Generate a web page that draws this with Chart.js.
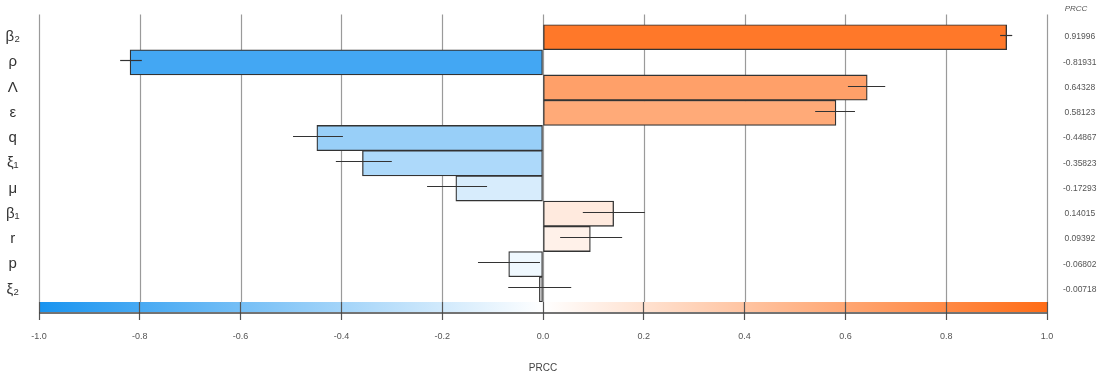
<!DOCTYPE html>
<html>
<head>
<meta charset="utf-8">
<script src="https://cdn.jsdelivr.net/npm/chart.js@4/dist/chart.umd.min.js"></script>
<style>
  html, body { margin: 0; padding: 0; background: #ffffff; }
  #wrap { width: 1097px; height: 376px; }
</style>
</head>
<body>
<div id="wrap"><canvas id="c" width="1097" height="376"></canvas></div>
<script>
// ---- data ----
const parameters = ['β₂', 'ρ', 'Λ', 'ε', 'q', 'ξ₁', 'μ', 'β₁', 'r', 'p', 'ξ₂'];
const prccValues = [0.91996, -0.81931, 0.64328, 0.58123, -0.44867, -0.35823, -0.17293, 0.14015, 0.09392, -0.06802, -0.00718];
const prccLabels = ['0.91996', '-0.81931', '0.64328', '0.58123', '-0.44867', '-0.35823', '-0.17293', '0.14015', '0.09392', '-0.06802', '-0.00718'];
const ciLower = [0.907, -0.839, 0.605, 0.540, -0.496, -0.411, -0.230, 0.079, 0.034, -0.129, -0.069];
const ciUpper = [0.931, -0.796, 0.679, 0.619, -0.397, -0.300, -0.111, 0.202, 0.157, -0.006, 0.056];
const xTickValues = [-1.0, -0.8, -0.6, -0.4, -0.2, 0.0, 0.2, 0.4, 0.6, 0.8, 1.0];

// ---- styling helpers ----
const NEG_END = [25, 148, 240];
const POS_END = [255, 108, 22];
function colorFor(v) {
  const t = Math.min(1, Math.abs(v));
  const end = v < 0 ? NEG_END : POS_END;
  const c = end.map(e => Math.round(255 + (e - 255) * t));
  return `rgb(${c[0]},${c[1]},${c[2]})`;
}

const decorPlugin = {
  id: 'decor',
  beforeDraw(chart) {
    const { ctx, chartArea, scales } = chart;
    const xs = scales.x;
    const x0 = xs.getPixelForValue(-1), x1 = xs.getPixelForValue(1);
    const g = ctx.createLinearGradient(x0, 0, x1, 0);
    g.addColorStop(0, colorFor(-1));
    g.addColorStop(0.5, '#ffffff');
    g.addColorStop(1, colorFor(1));
    ctx.save();
    ctx.fillStyle = g;
    ctx.fillRect(x0, chartArea.bottom, x1 - x0, 10);
    ctx.restore();
  },
  beforeDatasetsDraw(chart) {
    const { ctx, chartArea, scales } = chart;
    const xs = scales.x;
    ctx.save();
    ctx.strokeStyle = '#9a9a9a';
    ctx.lineWidth = 1.2;
    xTickValues.forEach(v => {
      const x = Math.round(xs.getPixelForValue(v)) + 0.5;
      ctx.beginPath();
      ctx.moveTo(x, chartArea.top - 10);
      ctx.lineTo(x, chartArea.bottom);
      ctx.stroke();
    });
    ctx.restore();
  },
  afterDatasetsDraw(chart) {
    const { ctx, scales } = chart;
    const xs = scales.x, ys = scales.y;
    ctx.save();
    ctx.strokeStyle = '#333333';
    ctx.lineWidth = 1.2;
    prccValues.forEach((v, i) => {
      const y = Math.round(ys.getPixelForValue(i)) - 1.5;
      ctx.beginPath();
      ctx.moveTo(xs.getPixelForValue(ciLower[i]), y);
      ctx.lineTo(xs.getPixelForValue(ciUpper[i]), y);
      ctx.stroke();
    });
    ctx.restore();
  },
  afterDraw(chart) {
    const { ctx, chartArea, scales } = chart;
    const xs = scales.x;
    ctx.save();
    ctx.strokeStyle = '#444444';
    ctx.lineWidth = 1.5;
    ctx.beginPath();
    ctx.moveTo(xs.getPixelForValue(-1), chartArea.bottom + 11);
    ctx.lineTo(xs.getPixelForValue(1), chartArea.bottom + 11);
    ctx.stroke();
    ctx.fillStyle = '#555555';
    ctx.font = 'italic 8px "Liberation Sans", Arial, sans-serif';
    ctx.textAlign = 'center';
    ctx.textBaseline = 'middle';
    ctx.fillText('PRCC', 1076, 9);
    ctx.restore();
  }
};

new Chart(document.getElementById('c'), {
  type: 'bar',
  data: {
    labels: parameters,
    datasets: [{
      data: prccValues,
      backgroundColor: prccValues.map(colorFor),
      borderColor: '#333333',
      borderWidth: 1.3,
      borderSkipped: false,
      barPercentage: 1,
      categoryPercentage: 1
    }]
  },
  plugins: [decorPlugin],
  options: {
    indexAxis: 'y',
    responsive: false,
    animation: false,
    maintainAspectRatio: false,
    layout: { padding: { top: 24.5, left: 0, right: 0, bottom: 0 } },
    plugins: { legend: { display: false }, tooltip: { enabled: false } },
    scales: {
      x: {
        type: 'linear',
        min: -1, max: 1,
        afterBuildTicks: (s) => { s.ticks = xTickValues.map(v => ({ value: v })); },
        ticks: {
          callback: (v) => Number(v).toFixed(1),
          font: { family: '"Liberation Sans", Arial, sans-serif', size: 9 },
          color: '#555555',
          padding: 11,
          maxRotation: 0,
          autoSkip: false
        },
        grid: { display: true, drawOnChartArea: false, drawTicks: true, tickLength: 18, tickColor: '#555555', tickWidth: 1.2 },
        border: { display: false },
        title: {
          display: true, text: 'PRCC',
          font: { family: '"Liberation Sans", Arial, sans-serif', size: 10 },
          color: '#444444',
          padding: { top: 0, bottom: 2 }
        },
        afterFit: (s) => { s.height = 74; }
      },
      y: {
        type: 'category',
        position: 'left',
        offset: true,
        ticks: {
          font: { family: '"Liberation Sans", Arial, sans-serif', size: 15 },
          color: '#333333',
          crossAlign: 'center',
          padding: 11,
          autoSkip: false
        },
        grid: { display: false },
        border: { display: false },
        afterFit: (s) => { s.width = 39; }
      },
      y2: {
        type: 'category',
        position: 'right',
        labels: prccLabels,
        offset: true,
        ticks: {
          font: { family: '"Liberation Sans", Arial, sans-serif', size: 8.5 },
          color: '#555555',
          crossAlign: 'center',
          padding: 8,
          autoSkip: false
        },
        grid: { display: false },
        border: { display: false },
        afterFit: (s) => { s.width = 50; }
      }
    }
  }
});
</script>
</body>
</html>
